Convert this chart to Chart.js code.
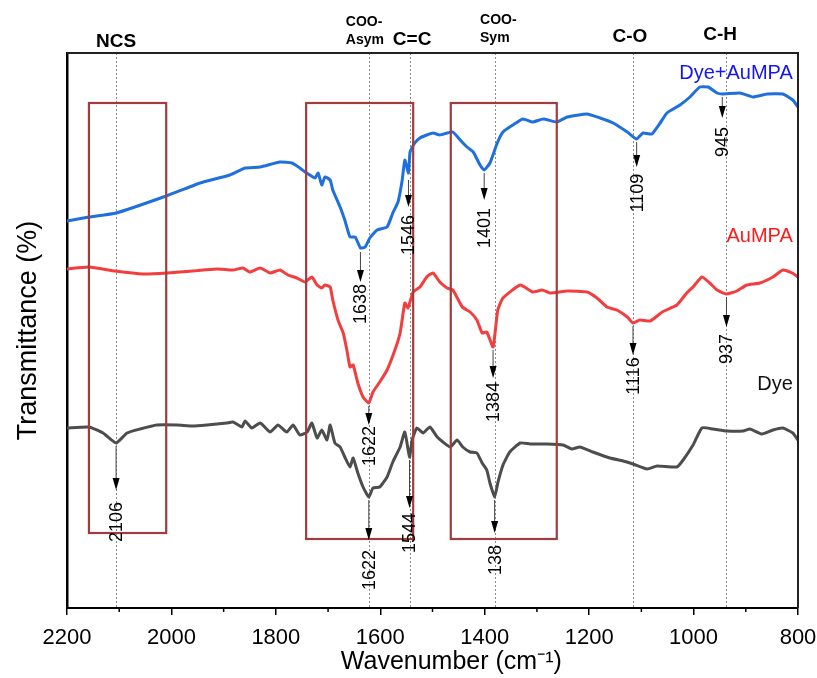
<!DOCTYPE html>
<html>
<head>
<meta charset="utf-8">
<script src="https://cdn.jsdelivr.net/npm/chart.js@4.4.1/dist/chart.umd.min.js"></script>
<style>
  html, body { margin: 0; padding: 0; background: #fff; overflow: hidden; }
  canvas { display: block; }
</style>
</head>
<body>
<canvas id="ftir" width="817" height="678"></canvas>
<script>
// wavenumbers (cm-1) and transmittance (arb., curves are offset)
const dyeAuMpaWave = [2200,2158,2106,2010,1945,1888,1859,1830,1792,1769,1754,1744,1735,1725,1719,1712,1706,1696,1691,1677,1668,1658,1648,1638,1629,1620,1606,1587,1576,1566,1558,1553,1546,1543,1534,1524,1511,1499,1486,1472,1461,1447,1434,1422,1409,1401,1390,1376,1365,1346,1327,1308,1288,1262,1242,1204,1179,1154,1127,1109,1097,1080,1064,1051,1026,1007,988,972,955,945,911,886,859,829,810,800];
const dyeAuMpaT = [387,391,395,412,425,433,440,441,446,445,440,436,433,430,435,423,431,428,418,401,388,371,371,360,361,370,378,381,395,406,428,448,435,456,465,470,473,475,473,475,476,468,461,456,443,438,445,465,476,483,489,486,489,486,491,494,490,485,476,469,475,474,485,495,503,511,521,521,515,514,515,511,514,514,508,501];

const auMpaWave = [2200,2158,2108,2054,2008,1959,1913,1882,1863,1850,1830,1811,1792,1777,1760,1744,1731,1721,1712,1706,1696,1691,1681,1671,1664,1658,1652,1643,1633,1622,1614,1601,1587,1572,1562,1553,1547,1537,1524,1511,1499,1486,1472,1461,1443,1428,1415,1405,1396,1384,1375,1365,1332,1308,1290,1275,1242,1204,1185,1166,1147,1127,1116,1103,1083,1060,1032,1013,1001,984,969,955,937,917,898,873,848,829,811,800];
const auMpaT = [339,341,337,334,335,337,339,338,340,336,340,335,338,333,330,326,331,323,320,323,321,308,288,275,258,241,243,225,211,205,216,226,238,258,275,305,300,316,321,331,335,326,320,318,301,296,288,275,276,261,298,310,323,316,318,315,317,316,310,301,298,291,285,288,287,296,303,315,321,331,325,318,314,317,323,325,331,338,335,331];

const dyeWave = [2200,2158,2131,2106,2085,2060,2028,1989,1959,1932,1913,1894,1882,1865,1859,1846,1830,1811,1796,1779,1767,1754,1740,1731,1721,1712,1702,1696,1687,1677,1668,1658,1652,1643,1633,1622,1614,1601,1587,1576,1562,1553,1544,1539,1530,1518,1505,1491,1480,1466,1453,1442,1428,1415,1405,1396,1390,1381,1375,1365,1352,1332,1313,1281,1250,1233,1218,1193,1160,1135,1116,1089,1070,1032,1020,1001,984,963,936,905,892,869,848,829,810,800];
const dyeT = [180,181,175,165,175,179,183,183,182,183,184,185,186,181,187,180,185,176,183,176,183,173,176,185,170,178,168,183,165,161,151,141,150,135,121,111,120,121,131,146,161,176,151,168,180,175,181,171,166,161,168,161,156,155,145,138,125,111,125,143,156,165,164,164,163,159,161,156,150,147,144,139,142,141,148,163,180,179,177,177,179,174,178,180,175,168];

const xTicks = [2200, 2000, 1800, 1600, 1400, 1200, 1000, 800];

// marked regions [from, to, bottom, top]
const regions = [[2158, 2010, 75, 505], [1742, 1537, 69, 505], [1465, 1262, 69, 505]];
const guideLines = [2106, 1622, 1544, 1381, 1116, 937];

// peak arrows: [wavenumber, start, tip, label y, text]
const peaks = [
  [1638, 356, 326, 304, '1638'], [1546, 428, 401, 373, '1546'], [1401, 435, 408, 380, '1401'],
  [1109, 466, 441, 415, '1109'], [945, 511, 490, 466, '945'],
  [1622, 202, 183, 162, '1622'], [1384, 258, 230, 206, '1384'], [1116, 282, 253, 232, '1116'],
  [937, 311, 281, 259, '937'],
  [2106, 162, 118, 86, '2106'], [1622, 108, 68, 38, '1622'], [1544, 148, 100, 75, '1544'],
  [1381, 108, 75, 48, '138']
];

// group names above the frame: [wavenumber, y px, lines, font, align]
const groups = [
  [2106, 42, ['NCS'], 'bold 19px', 'center'],
  [1666, 22, ['COO-', 'Asym'], 'bold 14px', 'left'],
  [1539, 40, ['C=C'], 'bold 19px', 'center'],
  [1409, 20, ['COO-', 'Sym'], 'bold 14px', 'left'],
  [1122, 37, ['C-O'], 'bold 19px', 'center'],
  [949, 35, ['C-H'], 'bold 19px', 'center']
];

const seriesNames = [['Dye+AuMPA', 535, '#1414ee'], ['AuMPA', 372, '#ff1a1a'], ['Dye', 224, '#111']];

const FONT = "'Liberation Sans', Arial, sans-serif";

function zip(xs, ys) { return xs.map((x, i) => ({ x: x, y: ys[i] })); }

const annotate = {
  id: 'annotate',
  beforeDatasetsDraw(chart) {
    const { ctx, chartArea: a, scales: { x } } = chart;
    ctx.save();
    ctx.strokeStyle = '#8a8a8a';
    ctx.lineWidth = 1;
    ctx.setLineDash([2, 2]);
    guideLines.forEach(w => {
      const px = Math.round(x.getPixelForValue(w)) + 0.5;
      ctx.beginPath(); ctx.moveTo(px, a.top); ctx.lineTo(px, a.bottom); ctx.stroke();
    });
    ctx.restore();
  },
  afterDatasetsDraw(chart) {
    const { ctx, chartArea: a, scales: { x, y } } = chart;
    ctx.save();
    // boxes
    ctx.strokeStyle = '#a23c3c';
    ctx.lineWidth = 2.2;
    regions.forEach(r => {
      const x1 = x.getPixelForValue(r[0]), x2 = x.getPixelForValue(r[1]);
      const y1 = y.getPixelForValue(r[3]), y2 = y.getPixelForValue(r[2]);
      ctx.strokeRect(x1, y1, x2 - x1, y2 - y1);
    });
    // arrows + rotated labels
    peaks.forEach(p => {
      const px = x.getPixelForValue(p[0]);
      const ys = y.getPixelForValue(p[1]), yt = y.getPixelForValue(p[2]), yl = y.getPixelForValue(p[3]);
      ctx.strokeStyle = '#444';
      ctx.lineWidth = 1;
      ctx.beginPath(); ctx.moveTo(px, ys); ctx.lineTo(px, yt - 8); ctx.stroke();
      ctx.fillStyle = '#000';
      ctx.beginPath();
      ctx.moveTo(px - 3.5, yt - 12); ctx.lineTo(px + 3.5, yt - 12); ctx.lineTo(px, yt);
      ctx.closePath(); ctx.fill();
      ctx.save();
      ctx.translate(px, yl);
      ctx.rotate(-Math.PI / 2);
      ctx.font = '18px ' + FONT;
      ctx.textAlign = 'center';
      ctx.textBaseline = 'middle';
      ctx.fillText(p[4], 0, 1);
      ctx.restore();
    });
    // series names
    ctx.font = '20px ' + FONT;
    ctx.textAlign = 'right';
    ctx.textBaseline = 'middle';
    seriesNames.forEach(s => {
      ctx.fillStyle = s[2];
      ctx.fillText(s[0], x.getPixelForValue(810), y.getPixelForValue(s[1]));
    });
    // group names
    ctx.fillStyle = '#000';
    groups.forEach(g => {
      ctx.font = g[3] + ' ' + FONT;
      ctx.textAlign = g[4];
      g[2].forEach((t, i) => ctx.fillText(t, x.getPixelForValue(g[0]), g[1] + i * 18));
    });
    // x axis title (sits a little right of centre in the original)
    ctx.font = '25px ' + FONT;
    ctx.textAlign = 'center';
    ctx.fillText('Wavenumber (cm⁻¹)', x.getPixelForValue(1464), 662);
    // frame top / right
    ctx.strokeStyle = '#222';
    ctx.lineWidth = 2;
    ctx.beginPath();
    ctx.moveTo(a.left, a.top); ctx.lineTo(a.right, a.top); ctx.lineTo(a.right, a.bottom);
    ctx.stroke();
    // minor ticks
    ctx.strokeStyle = '#000';
    ctx.lineWidth = 1.5;
    for (let i = 0; i < xTicks.length - 1; i++) {
      const px = x.getPixelForValue((xTicks[i] + xTicks[i + 1]) / 2);
      ctx.beginPath(); ctx.moveTo(px, a.bottom); ctx.lineTo(px, a.bottom + 4); ctx.stroke();
    }
    ctx.restore();
  }
};

new Chart(document.getElementById('ftir'), {
  type: 'line',
  data: {
    datasets: [
      { label: 'Dye+AuMPA', data: zip(dyeAuMpaWave, dyeAuMpaT), borderColor: '#1f6fdc' },
      { label: 'AuMPA', data: zip(auMpaWave, auMpaT), borderColor: '#f23e3e' },
      { label: 'Dye', data: zip(dyeWave, dyeT), borderColor: '#4d4d4d' }
    ]
  },
  options: {
    responsive: false,
    animation: false,
    layout: { autoPadding: false, padding: { top: 53, right: 19, left: 0, bottom: 0 } },
    elements: { point: { radius: 0 }, line: { borderWidth: 3, tension: 0.15 } },
    plugins: { legend: { display: false }, tooltip: { enabled: false } },
    scales: {
      x: {
        type: 'linear', reverse: true, min: 800, max: 2200,
        afterBuildTicks: s => { s.ticks = xTicks.map(v => ({ value: v })); },
        ticks: { font: { family: FONT, size: 22 }, color: '#000', padding: 10, maxRotation: 0, callback: v => String(v) },
        grid: { drawOnChartArea: false, drawTicks: true, tickLength: 7, color: '#000', lineWidth: 1.5 },
        border: { color: '#000', width: 2 },
        afterFit: s => { s.height = 70; s.paddingLeft = 0; s.paddingRight = 0; }
      },
      y: {
        min: 0, max: 555,
        ticks: { display: false },
        grid: { display: false },
        border: { color: '#000', width: 2.5 },
        title: { display: true, text: 'Transmittance (%)', font: { family: FONT, size: 27 }, color: '#000', padding: { top: 12, bottom: 0 } },
        afterFit: s => { s.width = 67; }
      }
    }
  },
  plugins: [annotate]
});
</script>
</body>
</html>
